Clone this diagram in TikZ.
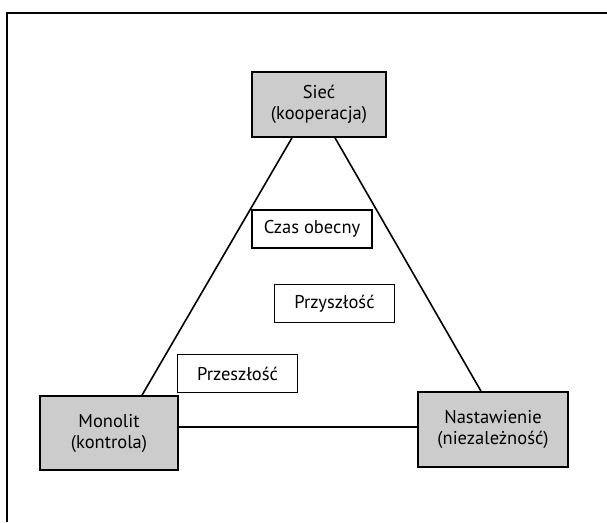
\documentclass[tikz,border=0pt]{standalone}
\usepackage{fontspec}
\setmainfont{PT Sans}
\definecolor{boxgray}{RGB}{204,204,204}
\begin{document}
\begin{tikzpicture}[x=1pt,y=-1pt,
  mainbox/.style={draw=black,line width=1.6pt,fill=boxgray,inner sep=0pt,align=center,font=\fontsize{18.5}{21}\selectfont},
  timebox/.style={draw=black,line width=1.3pt,fill=white,inner sep=0pt,align=center,font=\fontsize{18.5}{21}\selectfont,minimum width=120pt,minimum height=38pt},
  conn/.style={line width=1.6pt}]
\useasboundingbox (0,0) rectangle (607,522);
\draw[line width=1.6pt] (7,522) -- (7,13) -- (607,13);
\node[mainbox,minimum width=134pt,minimum height=65pt] (siec) at (319,104.5) {Sieć\\(kooperacja)};
\node[mainbox,minimum width=138pt,minimum height=74pt] (mono) at (109,433) {Monolit\\(kontrola)};
\node[mainbox,minimum width=150pt,minimum height=75pt] (nast) at (493,429.5) {Nastawienie\\(niezależność)};
\draw[conn] ([xshift=-27pt]siec.south) -- ([xshift=33pt]mono.north);
\draw[conn] ([xshift=16pt]siec.south) -- ([xshift=-12pt]nast.north);
\draw[conn] ([yshift=6pt]mono.east) -- ([yshift=2.5pt]nast.west);
\node[timebox] (czas) at (312,229) {Czas obecny};
\node[timebox] (przy) at (334.5,303.5) {Przyszłość};
\node[timebox] (prze) at (237.5,373.5) {Przeszłość};
\end{tikzpicture}
\end{document}
